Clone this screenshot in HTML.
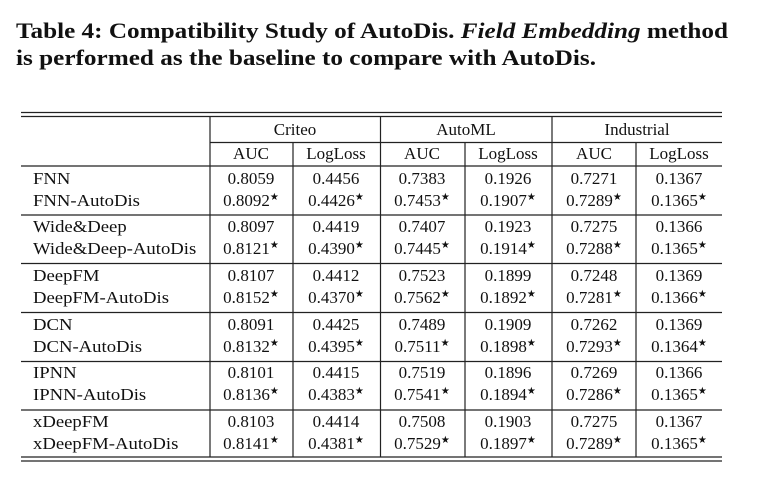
<!DOCTYPE html>
<html><head><meta charset="utf-8"><style>
html,body{margin:0;padding:0;background:#fff;}
svg{display:block;}
text{font-family:"Liberation Serif","DejaVu Serif",serif;fill:#111;}
.t{font-weight:bold;font-size:22px;}
.c{font-size:17px;text-anchor:middle;}
.l{font-size:17px;}
</style></head><body>
<svg width="778" height="477" viewBox="0 0 778 477" xmlns="http://www.w3.org/2000/svg">
<text class="t" x="16" y="38" textLength="712" lengthAdjust="spacingAndGlyphs">Table 4: Compatibility Study of AutoDis. <tspan font-style="italic">Field Embedding</tspan> method</text>
<text class="t" x="16" y="65" textLength="580" lengthAdjust="spacingAndGlyphs">is performed as the baseline to compare with AutoDis.</text>
<g stroke="#222" stroke-width="1.2" fill="none">
<line x1="21" y1="112.5" x2="722" y2="112.5"/>
<line x1="21" y1="116.5" x2="722" y2="116.5"/>
<line x1="210" y1="142.5" x2="722" y2="142.5"/>
<line x1="21" y1="166" x2="722" y2="166"/>
<line x1="21" y1="215" x2="722" y2="215"/>
<line x1="21" y1="263.5" x2="722" y2="263.5"/>
<line x1="21" y1="312.5" x2="722" y2="312.5"/>
<line x1="21" y1="361.5" x2="722" y2="361.5"/>
<line x1="21" y1="410" x2="722" y2="410"/>
<line x1="21" y1="457" x2="722" y2="457"/>
<line x1="21" y1="461" x2="722" y2="461"/>
<line x1="210" y1="117" x2="210" y2="457"/>
<line x1="380.5" y1="117" x2="380.5" y2="457"/>
<line x1="552" y1="117" x2="552" y2="457"/>
<line x1="293" y1="142" x2="293" y2="457"/>
<line x1="465" y1="142" x2="465" y2="457"/>
<line x1="636" y1="142" x2="636" y2="457"/>
</g>
<text class="c" x="295" y="135">Criteo</text>
<text class="c" x="466" y="135">AutoML</text>
<text class="c" x="637" y="135">Industrial</text>
<text class="c" x="251" y="159">AUC</text><text class="c" x="336" y="159">LogLoss</text>
<text class="c" x="422" y="159">AUC</text><text class="c" x="508" y="159">LogLoss</text>
<text class="c" x="594" y="159">AUC</text><text class="c" x="679" y="159">LogLoss</text>
<g transform="translate(33,0) scale(1.1,1) translate(-33,0)">
<text class="l" x="33" y="184">FNN</text><text class="l" x="33" y="206">FNN-AutoDis</text>
<text class="l" x="33" y="232">Wide&amp;Deep</text><text class="l" x="33" y="254">Wide&amp;Deep-AutoDis</text>
<text class="l" x="33" y="281">DeepFM</text><text class="l" x="33" y="303">DeepFM-AutoDis</text>
<text class="l" x="33" y="330">DCN</text><text class="l" x="33" y="352">DCN-AutoDis</text>
<text class="l" x="33" y="378">IPNN</text><text class="l" x="33" y="400">IPNN-AutoDis</text>
<text class="l" x="33" y="427">xDeepFM</text><text class="l" x="33" y="449">xDeepFM-AutoDis</text>
</g>
<text class="c" x="251" y="184">0.8059</text><text class="c" x="336" y="184">0.4456</text><text class="c" x="422" y="184">0.7383</text><text class="c" x="508" y="184">0.1926</text><text class="c" x="594" y="184">0.7271</text><text class="c" x="679" y="184">0.1367</text>
<text class="c" x="251" y="206">0.8092<tspan font-size="10" dy="-6">★</tspan></text><text class="c" x="336" y="206">0.4426<tspan font-size="10" dy="-6">★</tspan></text><text class="c" x="422" y="206">0.7453<tspan font-size="10" dy="-6">★</tspan></text><text class="c" x="508" y="206">0.1907<tspan font-size="10" dy="-6">★</tspan></text><text class="c" x="594" y="206">0.7289<tspan font-size="10" dy="-6">★</tspan></text><text class="c" x="679" y="206">0.1365<tspan font-size="10" dy="-6">★</tspan></text>

<text class="c" x="251" y="232">0.8097</text><text class="c" x="336" y="232">0.4419</text><text class="c" x="422" y="232">0.7407</text><text class="c" x="508" y="232">0.1923</text><text class="c" x="594" y="232">0.7275</text><text class="c" x="679" y="232">0.1366</text>
<text class="c" x="251" y="254">0.8121<tspan font-size="10" dy="-6">★</tspan></text><text class="c" x="336" y="254">0.4390<tspan font-size="10" dy="-6">★</tspan></text><text class="c" x="422" y="254">0.7445<tspan font-size="10" dy="-6">★</tspan></text><text class="c" x="508" y="254">0.1914<tspan font-size="10" dy="-6">★</tspan></text><text class="c" x="594" y="254">0.7288<tspan font-size="10" dy="-6">★</tspan></text><text class="c" x="679" y="254">0.1365<tspan font-size="10" dy="-6">★</tspan></text>

<text class="c" x="251" y="281">0.8107</text><text class="c" x="336" y="281">0.4412</text><text class="c" x="422" y="281">0.7523</text><text class="c" x="508" y="281">0.1899</text><text class="c" x="594" y="281">0.7248</text><text class="c" x="679" y="281">0.1369</text>
<text class="c" x="251" y="303">0.8152<tspan font-size="10" dy="-6">★</tspan></text><text class="c" x="336" y="303">0.4370<tspan font-size="10" dy="-6">★</tspan></text><text class="c" x="422" y="303">0.7562<tspan font-size="10" dy="-6">★</tspan></text><text class="c" x="508" y="303">0.1892<tspan font-size="10" dy="-6">★</tspan></text><text class="c" x="594" y="303">0.7281<tspan font-size="10" dy="-6">★</tspan></text><text class="c" x="679" y="303">0.1366<tspan font-size="10" dy="-6">★</tspan></text>

<text class="c" x="251" y="330">0.8091</text><text class="c" x="336" y="330">0.4425</text><text class="c" x="422" y="330">0.7489</text><text class="c" x="508" y="330">0.1909</text><text class="c" x="594" y="330">0.7262</text><text class="c" x="679" y="330">0.1369</text>
<text class="c" x="251" y="352">0.8132<tspan font-size="10" dy="-6">★</tspan></text><text class="c" x="336" y="352">0.4395<tspan font-size="10" dy="-6">★</tspan></text><text class="c" x="422" y="352">0.7511<tspan font-size="10" dy="-6">★</tspan></text><text class="c" x="508" y="352">0.1898<tspan font-size="10" dy="-6">★</tspan></text><text class="c" x="594" y="352">0.7293<tspan font-size="10" dy="-6">★</tspan></text><text class="c" x="679" y="352">0.1364<tspan font-size="10" dy="-6">★</tspan></text>

<text class="c" x="251" y="378">0.8101</text><text class="c" x="336" y="378">0.4415</text><text class="c" x="422" y="378">0.7519</text><text class="c" x="508" y="378">0.1896</text><text class="c" x="594" y="378">0.7269</text><text class="c" x="679" y="378">0.1366</text>
<text class="c" x="251" y="400">0.8136<tspan font-size="10" dy="-6">★</tspan></text><text class="c" x="336" y="400">0.4383<tspan font-size="10" dy="-6">★</tspan></text><text class="c" x="422" y="400">0.7541<tspan font-size="10" dy="-6">★</tspan></text><text class="c" x="508" y="400">0.1894<tspan font-size="10" dy="-6">★</tspan></text><text class="c" x="594" y="400">0.7286<tspan font-size="10" dy="-6">★</tspan></text><text class="c" x="679" y="400">0.1365<tspan font-size="10" dy="-6">★</tspan></text>

<text class="c" x="251" y="427">0.8103</text><text class="c" x="336" y="427">0.4414</text><text class="c" x="422" y="427">0.7508</text><text class="c" x="508" y="427">0.1903</text><text class="c" x="594" y="427">0.7275</text><text class="c" x="679" y="427">0.1367</text>
<text class="c" x="251" y="449">0.8141<tspan font-size="10" dy="-6">★</tspan></text><text class="c" x="336" y="449">0.4381<tspan font-size="10" dy="-6">★</tspan></text><text class="c" x="422" y="449">0.7529<tspan font-size="10" dy="-6">★</tspan></text><text class="c" x="508" y="449">0.1897<tspan font-size="10" dy="-6">★</tspan></text><text class="c" x="594" y="449">0.7289<tspan font-size="10" dy="-6">★</tspan></text><text class="c" x="679" y="449">0.1365<tspan font-size="10" dy="-6">★</tspan></text>
</svg>
</body></html>
